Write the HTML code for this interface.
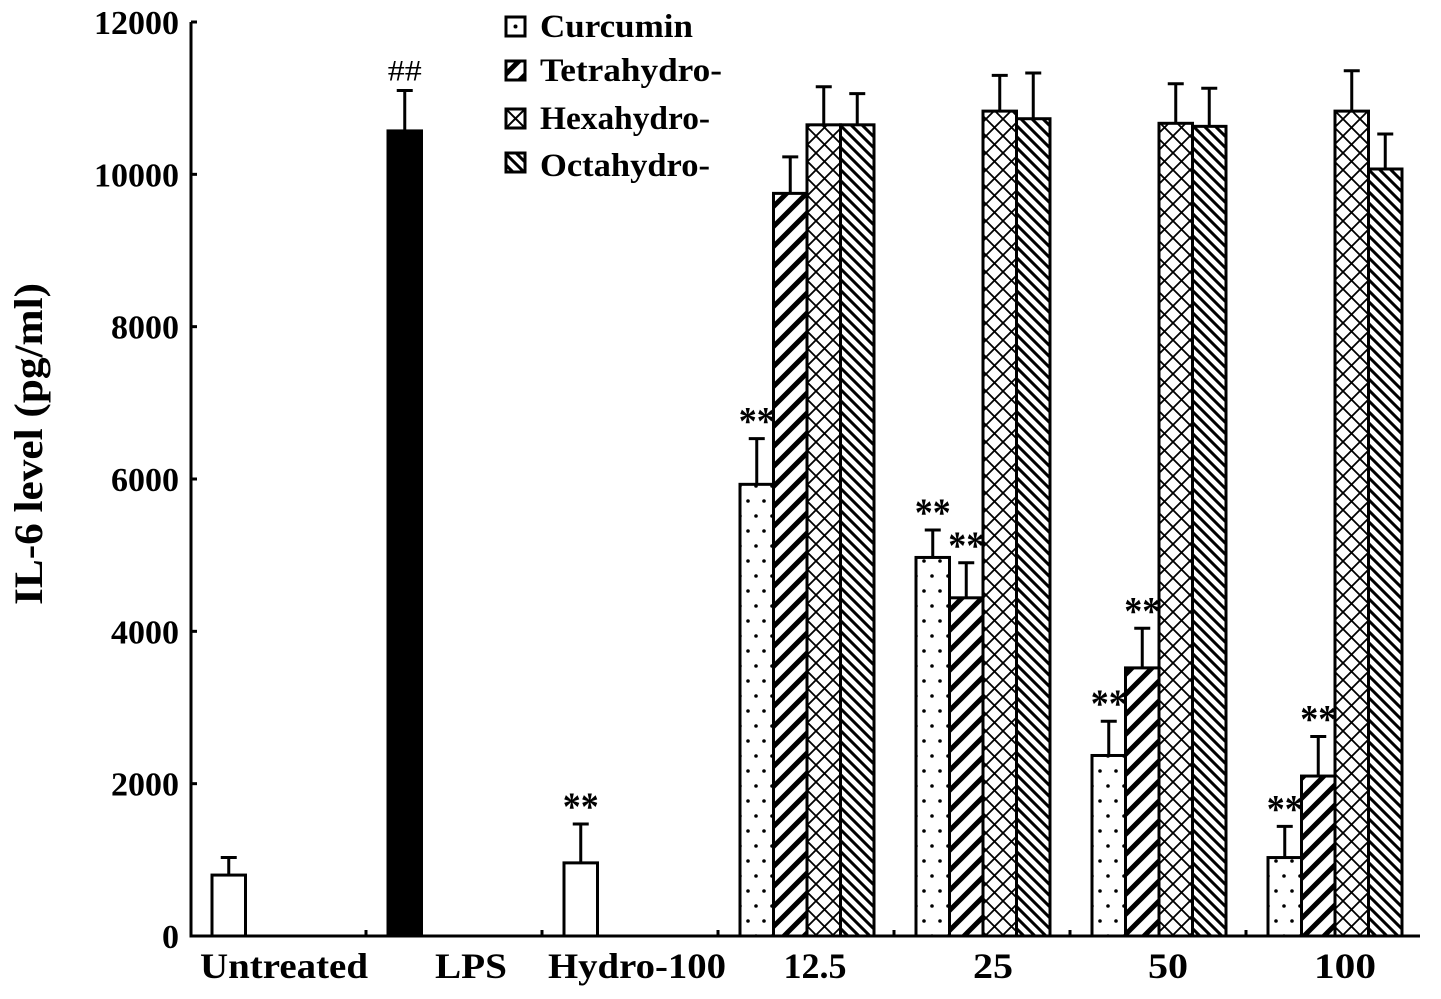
<!DOCTYPE html>
<html><head><meta charset="utf-8"><style>
html,body{margin:0;padding:0;background:#fff;}
svg{display:block;font-family:"Liberation Serif",serif;font-weight:bold;}
</style></head><body>
<svg id="chart" width="1441" height="999" viewBox="0 0 1441 999" xmlns="http://www.w3.org/2000/svg">
<defs>
<pattern id="pDots" patternUnits="userSpaceOnUse" width="16" height="30" x="0" y="0">
<rect width="16" height="30" fill="#fff"/>
<circle cx="4" cy="6" r="1.8" fill="#000"/><circle cx="12" cy="21" r="1.8" fill="#000"/>
</pattern>
<pattern id="pFwd" patternUnits="userSpaceOnUse" width="20" height="20">
<rect width="20" height="20" fill="#fff"/>
<path d="M-5,25 L25,-5 M-5,5 L5,-5 M15,25 L25,15" stroke="#000" stroke-width="5"/>
</pattern>
<pattern id="pCross" patternUnits="userSpaceOnUse" width="17" height="17">
<rect width="17" height="17" fill="#fff"/>
<path d="M0,0 L17,17 M17,0 L0,17" stroke="#000" stroke-width="1.8"/>
</pattern>
<pattern id="pBack" patternUnits="userSpaceOnUse" width="11" height="11">
<rect width="11" height="11" fill="#fff"/>
<path d="M-3,-3 L14,14 M-3,8 L3,14 M8,-3 L14,3" stroke="#000" stroke-width="3"/>
</pattern>
</defs>
<g id="plot"></g>
<text transform="translate(42,444) rotate(-90)" text-anchor="middle" font-size="40" textLength="322" lengthAdjust="spacingAndGlyphs">IL-6 level (pg/ml)</text>
<g font-size="33">
<rect x="506" y="17" width="19" height="19" fill="#fff" stroke="#000" stroke-width="3"/>
<circle cx="515.5" cy="26.5" r="2" fill="#000"/>
<text x="540" y="37" textLength="153" lengthAdjust="spacingAndGlyphs">Curcumin</text>
<rect x="506" y="61" width="19" height="19" fill="url(#pFwd)" stroke="#000" stroke-width="3"/>
<text x="540" y="81" textLength="182" lengthAdjust="spacingAndGlyphs">Tetrahydro-</text>
<rect x="506" y="109" width="19" height="19" fill="#fff" stroke="#000" stroke-width="3"/>
<path d="M506,109 L525,128 M525,109 L506,128" stroke="#000" stroke-width="2"/>
<text x="540" y="129" textLength="170" lengthAdjust="spacingAndGlyphs">Hexahydro-</text>
<rect x="506" y="153" width="19" height="19" fill="url(#pBack)" stroke="#000" stroke-width="3"/>
<text x="540" y="176" textLength="170" lengthAdjust="spacingAndGlyphs">Octahydro-</text>
</g>
</svg>
<script>
const categories = ["Untreated","LPS","Hydro-100","12.5","25","50","100"];
const yTicks = [0,2000,4000,6000,8000,10000,12000];
// single bars for first three groups
const singleValues = [800, 10570, 960];
const singleErrors = [1030, 11100, 1470];
const singleMarks = ["", "##", "**"];
// grouped series (groups 12.5, 25, 50, 100)
const curcumin = [5930, 4970, 2370, 1030];
const curcuminErr = [6530, 5330, 2820, 1440];
const tetrahydro = [9750, 4440, 3520, 2100];
const tetrahydroErr = [10230, 4900, 4040, 2620];
const hexahydro = [10650, 10830, 10670, 10830];
const hexahydroErr = [11150, 11300, 11190, 11360];
const octahydro = [10650, 10730, 10630, 10070];
const octahydroErr = [11060, 11330, 11130, 10530];
const curcuminMarks = ["**","**","**","**"];
const tetrahydroMarks = ["","**","**","**"];

const NS="http://www.w3.org/2000/svg";
const g=document.getElementById('plot');
const y0=936, yTop=22, yMax=12000, axisX=191, groupStart=212, groupStep=176, barW=33.5;
function yS(v){return y0-(v/yMax)*(y0-yTop);}
function xG(i){return groupStart+groupStep*i;}
function mk(tag,attrs){const e=document.createElementNS(NS,tag);for(const k in attrs)e.setAttribute(k,attrs[k]);g.appendChild(e);return e;}

function bar(x,v,err,fill,mark,name){
  const r=mk('rect',{x:x,y:yS(v),width:barW,height:y0-yS(v),fill:fill,stroke:'#000','stroke-width':3});
  
  
  const cx=x+barW/2;
  const l=mk('path',{d:`M${cx},${yS(v)} L${cx},${yS(err)} M${cx-8},${yS(err)} L${cx+8},${yS(err)}`,stroke:'#000','stroke-width':3,fill:'none'});
  
  
  if(mark){
    const isHash=mark==='##';
    const t=mk('text',{x:cx,y:yS(err)-(isHash?10:4),'text-anchor':'middle','font-size':isHash?30:40,'font-weight':isHash?'normal':'bold',textLength:isHash?34:36,lengthAdjust:'spacingAndGlyphs'});
    t.textContent=mark;
    
    
  }
}
for(let i=0;i<3;i++){
  bar(xG(i),singleValues[i],singleErrors[i],i===1?'#000':'#fff',singleMarks[i],'bar-'+categories[i].toLowerCase());
}
const series=[[curcumin,curcuminErr,'url(#pDots)',curcuminMarks,'curcumin'],[tetrahydro,tetrahydroErr,'url(#pFwd)',tetrahydroMarks,'tetrahydro'],[hexahydro,hexahydroErr,'url(#pCross)',null,'hexahydro'],[octahydro,octahydroErr,'url(#pBack)',null,'octahydro']];
for(let j=0;j<4;j++){
  series.forEach((s,k)=>{
    bar(xG(j+3)+k*barW,s[0][j],s[1][j],s[2],s[3]?s[3][j]:'','bar-'+s[4]+'-'+categories[j+3]);
  });
}
// axes
const ax=mk('path',{d:`M${axisX},${yTop} L${axisX},${y0} L1420,${y0}`,stroke:'#000','stroke-width':3,fill:'none'});


yTicks.forEach(v=>{
  const tk=mk('path',{d:`M${axisX},${yS(v)} L${axisX+6},${yS(v)}`,stroke:'#000','stroke-width':3});
  
  
  const t=mk('text',{x:179,y:yS(v)+12,'text-anchor':'end','font-size':34});
  t.textContent=v;
  
  
});
const catCenters=[284,471,637,815,993,1168,1345];
const catWidths=[168,72,178,63,40,40,62];
categories.forEach((c,i)=>{
  if(i>0){
    const tk=mk('path',{d:`M${xG(i)-22},${y0} L${xG(i)-22},${y0-6}`,stroke:'#000','stroke-width':3});
    
    
  }
  const t=mk('text',{x:catCenters[i],y:978,'text-anchor':'middle','font-size':36,textLength:catWidths[i],lengthAdjust:'spacingAndGlyphs'});
  t.textContent=c;
  
  
});
</script>
</body></html>
